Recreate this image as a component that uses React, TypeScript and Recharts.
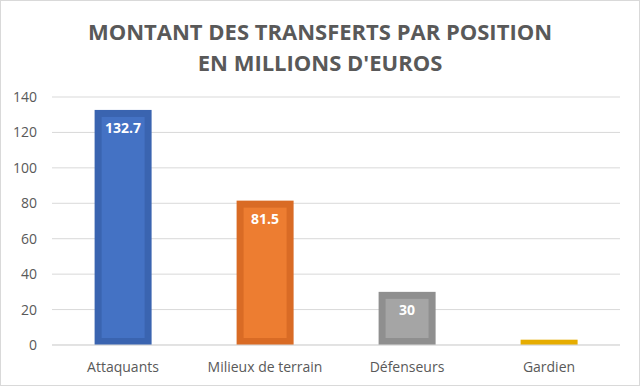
import { BarChart, Bar, XAxis, YAxis, CartesianGrid, LabelList } from 'recharts';

const positions = ['Attaquants', 'Milieux de terrain', 'Défenseurs', 'Gardien'];
const amounts = [132.7, 81.5, 30, 3];
const yTicks = [0, 20, 40, 60, 80, 100, 120, 140];

// inner fill and darker outer frame, Excel style
const fills = ['#4472C4', '#ED7D31', '#A5A5A5', '#FFC000'];
const frames = ['#3A64B0', '#D96B25', '#8F8F8F', '#E6AD00'];

const data = positions.map((name, i) => ({ name, value: amounts[i], idx: i }));

const FONT = '"Open Sans", "Liberation Sans", sans-serif';

function FramedBar(props: any) {
  const { x, y, width, height, payload } = props;
  const i = payload.idx;
  const inset = 7;
  if (height <= inset * 2) {
    return <rect x={x} y={y} width={width} height={height} fill={frames[i]} />;
  }
  return (
    <g>
      <rect x={x} y={y} width={width} height={height} fill={frames[i]} />
      <rect x={x + inset} y={y + inset} width={width - inset * 2} height={height - inset * 2} fill={fills[i]} />
    </g>
  );
}

function ValueLabel(props: any) {
  const { x, y, width, value } = props;
  if (value < 10) return null;
  return (
    <text x={x + width / 2} y={y + 23} textAnchor="middle" fill="#fff" fontSize={14} fontWeight={700} fontFamily={FONT}>
      {value}
    </text>
  );
}

export default function App() {
  return (
    <div style={{ position: 'absolute', left: 0, top: 0, width: 640, height: 386, background: '#fff' }}>
      <div style={{ position: 'absolute', left: 0, top: 0, width: 638, height: 384, border: '1px solid #D9D9D9' }} />
      <div style={{ position: 'absolute', left: 0, top: 16, width: 640, textAlign: 'center', fontFamily: FONT, fontWeight: 700, fontSize: 22, lineHeight: '31px', color: '#595959' }}>
        MONTANT DES TRANSFERTS PAR POSITION<br />EN MILLIONS D'EUROS
      </div>
      <BarChart width={640} height={386} data={data} margin={{ top: 97, right: 20, bottom: 0, left: 0 }} barCategoryGap="30%">
        <CartesianGrid vertical={false} stroke="#D9D9D9" />
        <XAxis dataKey="name" axisLine={{ stroke: '#D9D9D9' }} tickLine={false} height={41} tick={{ fontSize: 14, fill: '#595959', fontFamily: FONT }} interval={0} tickMargin={11} />
        <YAxis domain={[0, 140]} ticks={yTicks} axisLine={false} tickLine={false} width={52} tick={{ fontSize: 14, fill: '#595959', fontFamily: FONT }} tickMargin={9} />
        <Bar dataKey="value" shape={FramedBar} isAnimationActive={false}>
          <LabelList dataKey="value" content={ValueLabel} />
        </Bar>
      </BarChart>
    </div>
  );
}
